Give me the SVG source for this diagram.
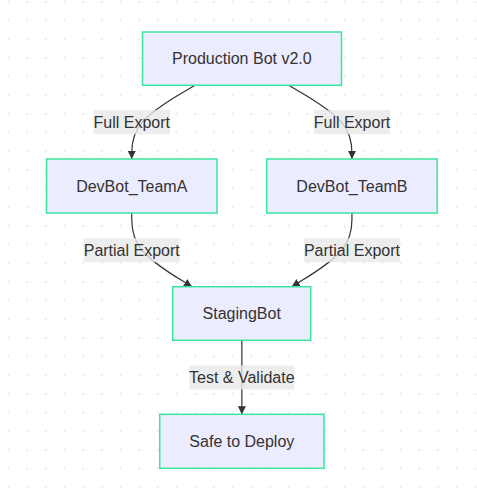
<svg xmlns="http://www.w3.org/2000/svg" width="477" height="500" viewBox="0 0 477 500">
<style>
.node rect{fill:#ECECFF;stroke:#3be59c;stroke-width:1.5}
.node text{font-family:"Liberation Sans",Arial,sans-serif;font-size:16px;fill:#333;text-anchor:middle}
.edge{fill:none;stroke:#333;stroke-width:1.2}
.lbl rect{fill:rgba(232,232,232,0.8)}
.lbl text{font-family:"Liberation Sans",Arial,sans-serif;font-size:16px;fill:#333;text-anchor:middle}
</style>
<defs>
<pattern id="dots" patternUnits="userSpaceOnUse" width="18.67" height="18.67">
<circle cx="8.3" cy="2" r="0.9" fill="#e2e2e2"/>
</pattern>
<marker id="arrow" viewBox="0 0 10 10" refX="10" refY="5" markerUnits="userSpaceOnUse" markerWidth="8" markerHeight="8" orient="auto">
<path d="M0,0 L10,5 L0,10 z" fill="#333"/>
</marker>
</defs>
<rect x="0" y="0" width="477" height="500" fill="#fff"/>
<rect x="0" y="0" width="477" height="500" fill="url(#dots)"/>
<g id="connectors">
<path class="edge" marker-end="url(#arrow)" d="M195,85.3 L184.45,91.45 C173.9,97.6 152.8,109.9 142.25,122.2 C131.75,134.5 131.75,146.7 131.75,152.9 L131.75,159"/>
<path class="edge" marker-end="url(#arrow)" d="M288.7,85.3 L299.25,91.45 C309.8,97.6 330.9,109.9 341.45,122.2 C351.95,134.5 351.95,146.7 351.95,152.9 L351.95,159"/>
<path class="edge" marker-end="url(#arrow)" d="M131.75,213 L131.75,219.2 C131.75,225.4 131.75,237.8 141.8,250 C151.85,262.2 171.95,274.5 182,280.6 L192,286.7"/>
<path class="edge" marker-end="url(#arrow)" d="M351.95,213 L351.95,219.2 C351.95,225.4 351.95,237.8 341.9,250 C331.85,262.2 311.75,274.5 301.7,280.6 L291.7,286.7"/>
<path class="edge" marker-end="url(#arrow)" d="M241.85,340.3 L241.85,414.3"/>
<g class="lbl">
<rect x="93.5" y="110.2" width="76.5" height="24"/>
<text x="131.75" y="128">Full Export</text>
</g>
<g class="lbl">
<rect x="313.7" y="110.2" width="76.5" height="24"/>
<text x="351.95" y="128">Full Export</text>
</g>
<g class="lbl">
<rect x="83.75" y="238.2" width="96" height="24"/>
<text x="131.75" y="256">Partial Export</text>
</g>
<g class="lbl">
<rect x="303.95" y="238.2" width="96" height="24"/>
<text x="351.95" y="256">Partial Export</text>
</g>
<g class="lbl">
<rect x="189.3" y="365.5" width="105.2" height="24"/>
<text x="241.85" y="383.3">Test &amp; Validate</text>
</g>
</g>
<g id="node-production" class="node">
<rect x="142.5" y="32" width="199" height="53.3"/>
<text x="241.85" y="64">Production Bot v2.0</text>
</g>
<g id="node-teamA" class="node">
<rect x="46.5" y="159" width="170.5" height="54"/>
<text x="131.75" y="191.5">DevBot_TeamA</text>
</g>
<g id="node-teamB" class="node">
<rect x="266.7" y="159" width="170.5" height="54"/>
<text x="351.95" y="191.5">DevBot_TeamB</text>
</g>
<g id="node-staging" class="node">
<rect x="172.7" y="286.7" width="138" height="53.6"/>
<text x="241.7" y="319">StagingBot</text>
</g>
<g id="node-safe" class="node">
<rect x="159.7" y="414.3" width="164.3" height="54"/>
<text x="241.85" y="446.8">Safe to Deploy</text>
</g>
</svg>
